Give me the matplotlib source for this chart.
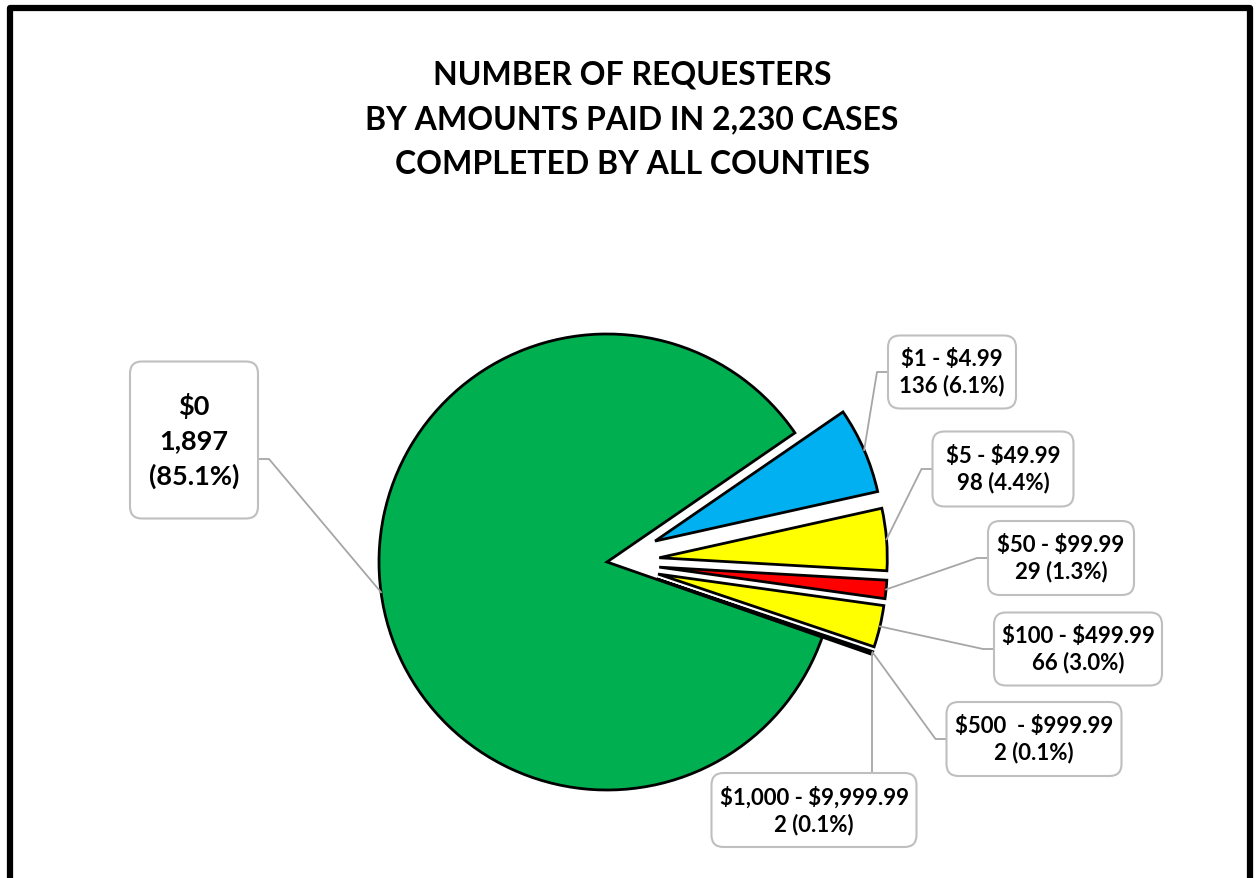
import matplotlib
matplotlib.use('Agg')
import matplotlib.pyplot as plt
from matplotlib.patches import FancyBboxPatch, Rectangle
import numpy as np

# Data (order of the wedges, clockwise from the top of the gap)
categories = [r'\$1 - \$4.99', r'\$5 - \$49.99', r'\$50 - \$99.99', r'\$100 - \$499.99',
              r'\$500  - \$999.99', r'\$1,000 - \$9,999.99', r'\$0']
counts = [136, 98, 29, 66, 2, 2, 1897]
percents = ['6.1%', '4.4%', '1.3%', '3.0%', '0.1%', '0.1%', '85.1%']
colors = ['#00B0F0', '#FFFF00', '#FF0000', '#FFFF00', '#FFC000', '#7030A0', '#00B050']

W, H = 1257, 879
fig = plt.figure(figsize=(W / 100, H / 100), dpi=100)
ax = fig.add_axes([0, 0, 1, 1])
ax.set_xlim(0, W)
ax.set_ylim(0, H)
ax.set_aspect('equal')
ax.axis('off')

plt.rcParams['font.family'] = ['Lato', 'DejaVu Sans']

# outer chart border
ax.add_patch(Rectangle((10, -20), 1239.5, H - 8.5 + 20, fill=False,
                       edgecolor='black', linewidth=4.5, joinstyle='round'))

# title
ax.text(632, H - 120, 'NUMBER OF REQUESTERS\nBY AMOUNTS PAID IN 2,230 CASES\nCOMPLETED BY ALL COUNTIES',
        ha='center', va='center', fontsize=23, fontweight='bold', linespacing=1.66)

cx, cy, R = 607, H - 563, 228
# explode is applied in data units by matplotlib, so scale by radius
explode = [0.23 * R] * 6 + [0.0]
wedges, _ = ax.pie(counts, colors=colors, explode=explode, startangle=34.5,
                   counterclock=False, center=(cx, cy), radius=R,
                   wedgeprops=dict(edgecolor='black', linewidth=2.0))
ax.set_xlim(0, W)
ax.set_ylim(0, H)

# label boxes: (center x, center y, width, height) in pixels, attach side
boxes = [
    (952, 373, 128, 73, 'left'),
    (1003, 470, 141, 75, 'left'),
    (1061, 559, 146, 74, 'left'),
    (1078, 650, 168, 73, 'left'),
    (1034, 740, 175, 74, 'left'),
    (814, 811, 205, 74, 'top'),
    (194, 441, 128, 157, 'right0'),
]

line_col = '#A6A6A6'
for i, (w, (bx, by, bw, bh, side)) in enumerate(zip(wedges, boxes)):
    by = H - by
    mid = np.deg2rad((w.theta1 + w.theta2) / 2)
    ax_, ay_ = w.center[0] + w.r * np.cos(mid), w.center[1] + w.r * np.sin(mid)
    if side == 'left':
        ex, ey = bx - bw / 2, by
        pts = [(ax_, ay_), (ex - 11, ey), (ex, ey)]
    elif side == 'top':
        ex, ey = ax_, by + bh / 2
        pts = [(ax_, ay_), (ex, ey)]
    else:
        ex, ey = bx + bw / 2, by - 19
        pts = [(ax_, ay_), (ex + 11, ey), (ex, ey)]
    xs, ys = zip(*pts)
    ax.plot(xs, ys, color=line_col, linewidth=1.3, zorder=3)
    ax.add_patch(FancyBboxPatch((bx - bw / 2 + 12, by - bh / 2 + 12), bw - 24, bh - 24,
                                boxstyle='round,pad=12', facecolor='white',
                                edgecolor='#BFBFBF', linewidth=1.5, zorder=4))
    if side == 'right0':
        txt = '%s\n%s\n(%s)' % (categories[i], format(counts[i], ','), percents[i])
        ax.text(bx, by, txt, ha='center', va='center', fontsize=19.5,
                fontweight='bold', linespacing=1.52, zorder=5)
    else:
        txt = '%s\n%d (%s)' % (categories[i], counts[i], percents[i])
        ax.text(bx, by, txt, ha='center', va='center', fontsize=16,
                fontweight='bold', linespacing=1.25, zorder=5)

fig.savefig('out.png', dpi=100)
